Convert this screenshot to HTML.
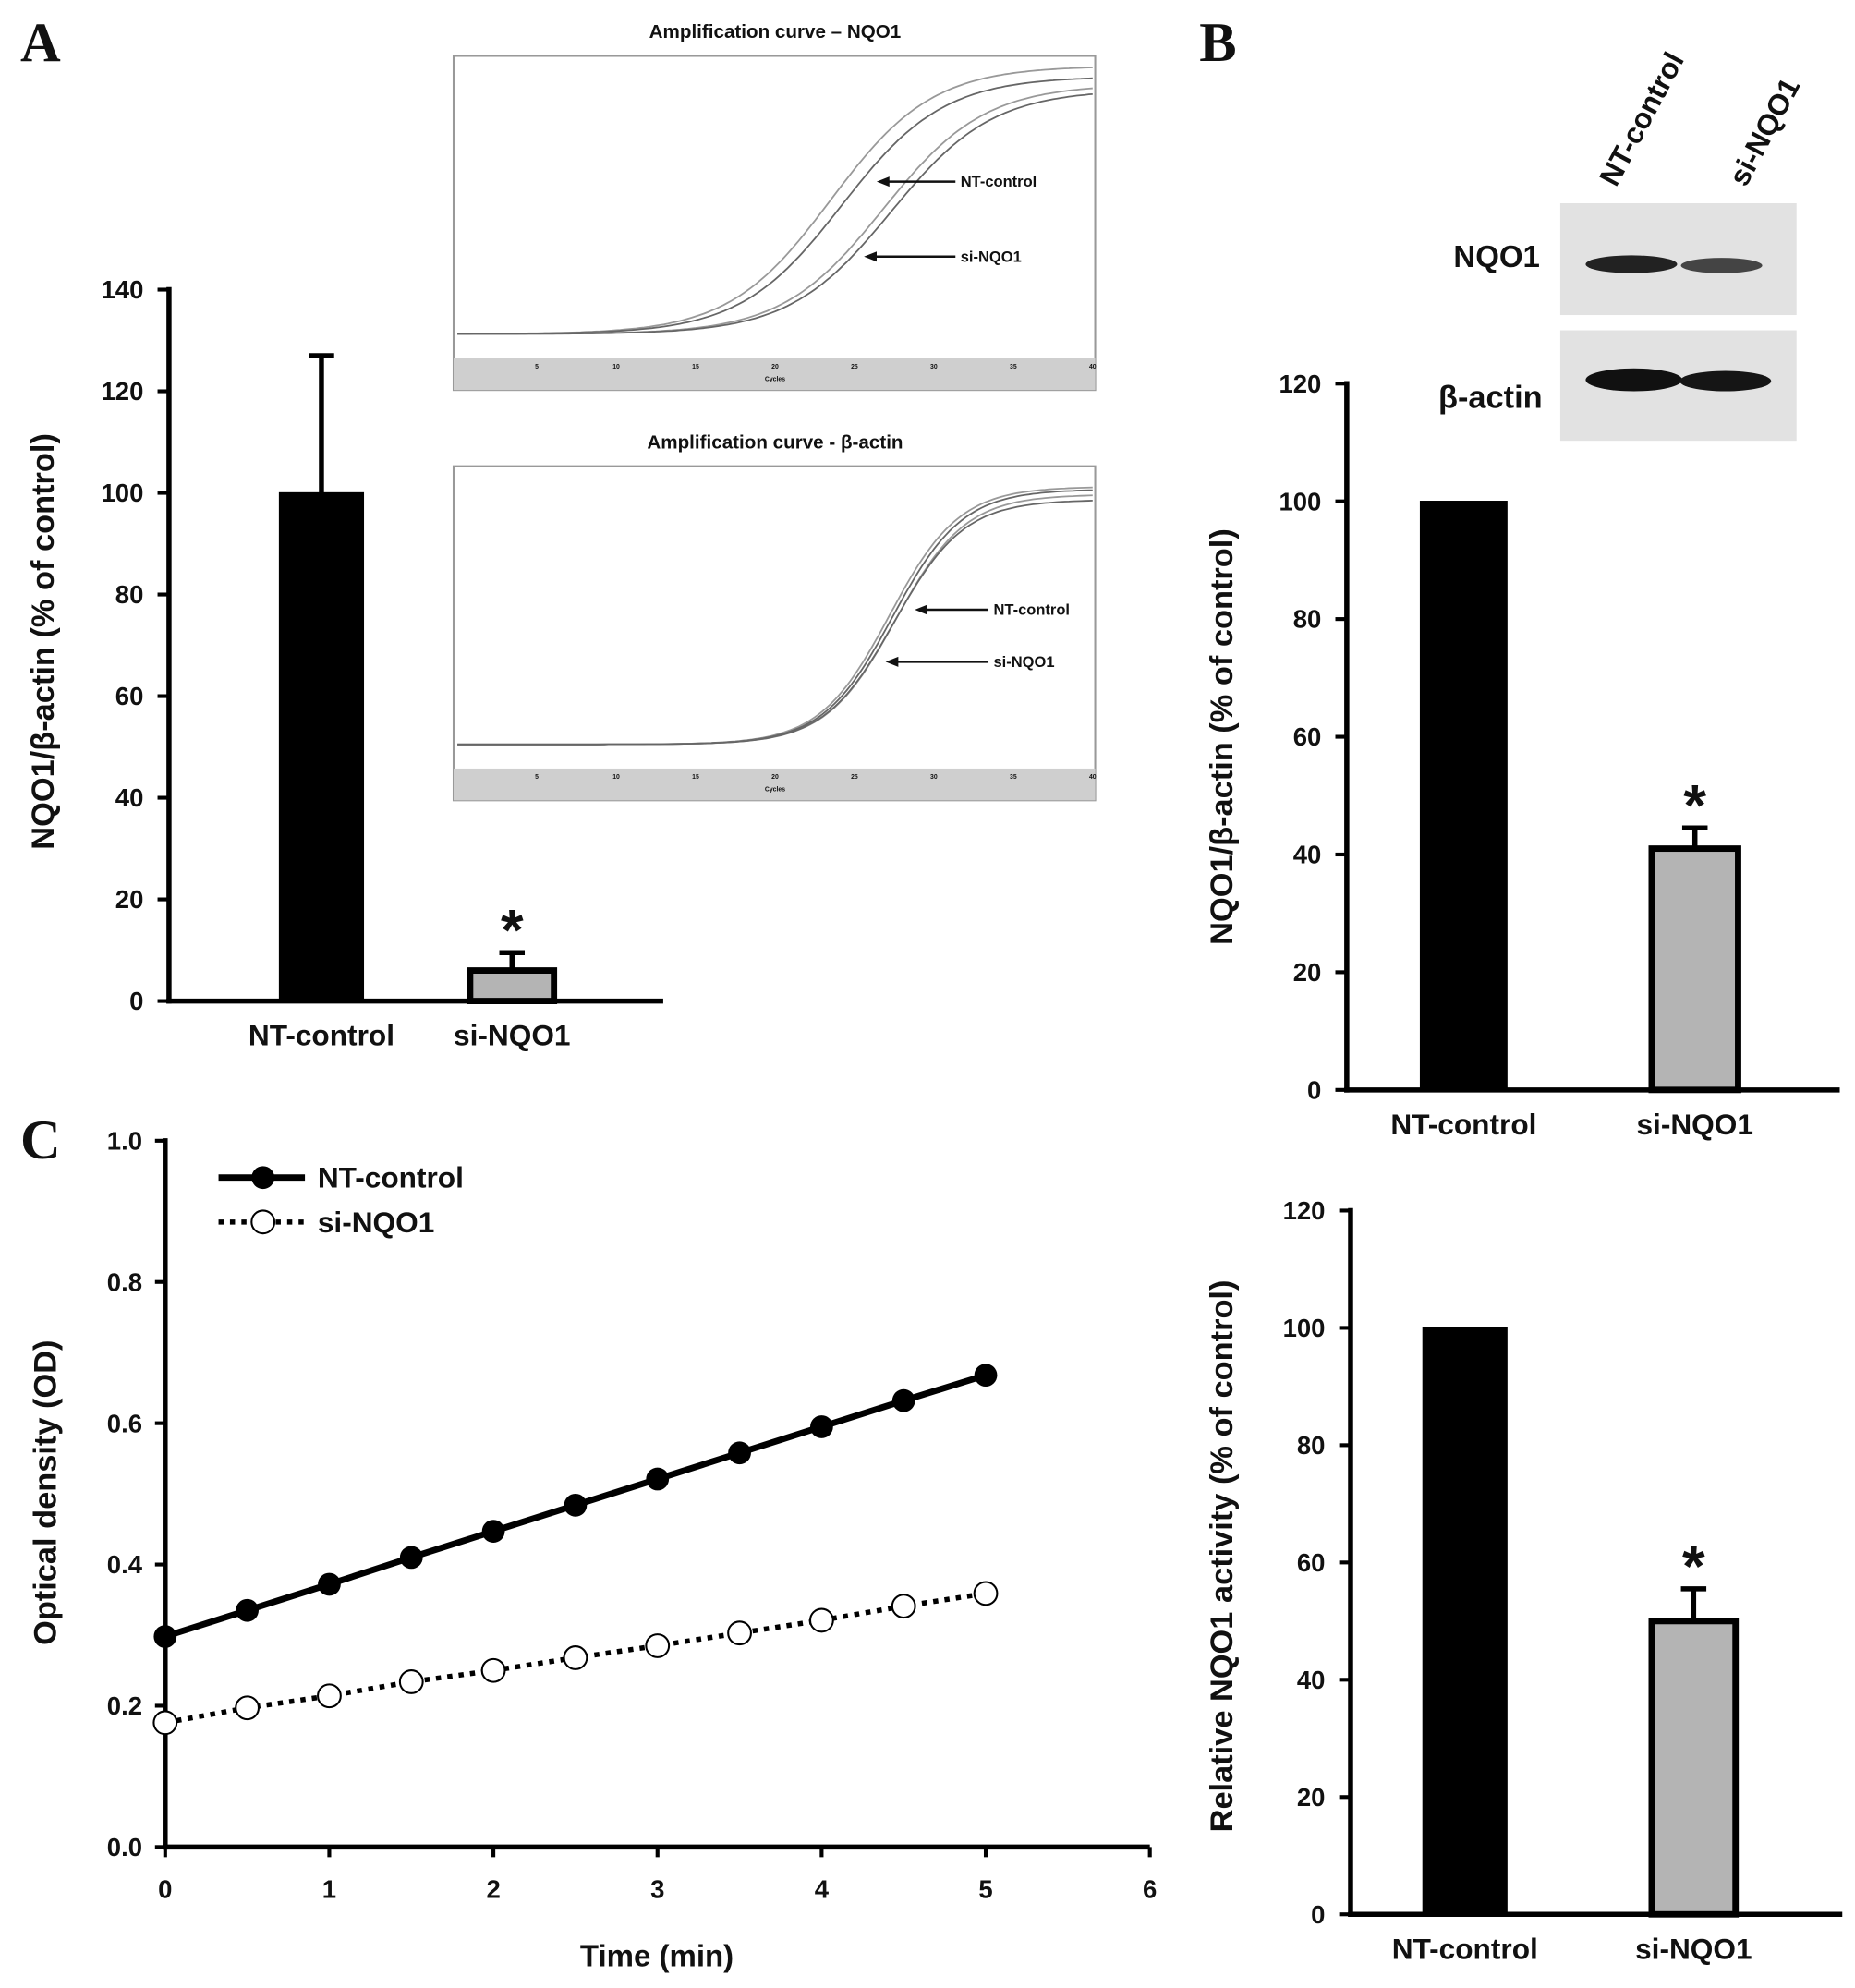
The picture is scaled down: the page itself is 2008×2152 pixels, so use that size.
<!DOCTYPE html>
<html><head><meta charset="utf-8">
<style>
html,body{margin:0;padding:0;background:#fff;}
svg{display:block;}
text{font-family:"Liberation Sans",Arial,sans-serif;font-weight:bold;fill:#111;}
.serif{font-family:"Liberation Serif",serif;}
</style></head>
<body>
<svg id="fig" width="2008" height="2152" viewBox="0 0 1460 1565" preserveAspectRatio="none" xmlns="http://www.w3.org/2000/svg">
<rect x="0" y="0" width="1460" height="1565" fill="#fff"/>
<g id="root"></g>
</svg>
<script>
// ---- Panel A data ----
const aCategories = ["NT-control", "si-NQO1"];
const aValues = [100, 6];
const aErrors = [27, 3.5];
const aTicks = [0, 20, 40, 60, 80, 100, 120, 140];
// ---- Panel B data ----
const bCategories = ["NT-control", "si-NQO1"];
const bValues = [100, 41];
const bErrors = [0, 3.5];
const bTicks = [0, 20, 40, 60, 80, 100, 120];
// ---- Panel D (activity) data ----
const dCategories = ["NT-control", "si-NQO1"];
const dValues = [100, 50];
const dErrors = [0, 5.5];
const dTicks = [0, 20, 40, 60, 80, 100, 120];
// ---- Panel C data ----
const cTime = [0, 0.5, 1, 1.5, 2, 2.5, 3, 3.5, 4, 4.5, 5];
const cNT = [0.298, 0.335, 0.372, 0.41, 0.447, 0.484, 0.521, 0.558, 0.595, 0.632, 0.668];
const cSi = [0.176, 0.197, 0.214, 0.234, 0.25, 0.268, 0.285, 0.303, 0.321, 0.341, 0.359];
const cYTicks = ["0.0", "0.2", "0.4", "0.6", "0.8", "1.0"];
const cXTicks = [0, 1, 2, 3, 4, 5, 6];
// ---- Inset amplification curve parameters (cycle midpoints / plateaus) ----
const ampNQO1Mid = [23.5, 24.2, 26.8, 27.3];
const ampNQO1Top = [1.02, 0.98, 0.95, 0.93];
const ampActinMid = [27.2, 27.4, 27.6, 27.5];
const ampActinTop = [0.98, 0.97, 0.95, 0.93];

const NS = "http://www.w3.org/2000/svg";
const root = document.getElementById("root");
function mk(tag, attrs, parent, txt) {
  const e = document.createElementNS(NS, tag);
  for (const k in attrs) e.setAttribute(k, attrs[k]);
  if (txt !== undefined) e.textContent = txt;
  (parent || root).appendChild(e);
  return e;
}

function barChart(cfg) {
  const g = mk("g", {});
  
  
  const yScale = v => cfg.y0 - (v - cfg.min) / (cfg.max - cfg.min) * (cfg.y0 - cfg.yTop);
  const ya = mk("line", {x1: cfg.ax, y1: cfg.yTop - 2, x2: cfg.ax, y2: cfg.y0 + 2, stroke: "#000", "stroke-width": 4}, g);
  
  
  const xa = mk("line", {x1: cfg.ax - 2, y1: cfg.y0, x2: cfg.axEnd, y2: cfg.y0, stroke: "#000", "stroke-width": 4}, g);
  
  
  cfg.ticks.forEach(t => {
    const y = yScale(t);
    mk("line", {x1: cfg.ax - 9, y1: y, x2: cfg.ax, y2: y, stroke: "#000", "stroke-width": 3}, g);
    const tl = mk("text", {x: cfg.ax - 20, y: y + 7, "text-anchor": "end", "font-size": 20}, g, String(t));
    
    
  });
  cfg.values.forEach((v, i) => {
    const x = cfg.barX[i], w = cfg.barW;
    const top = yScale(v), err = yScale(v + cfg.errors[i]);
    const cx = x + w / 2;
    if (cfg.errors[i] > 0) {
      const eb = mk("line", {x1: cx, y1: top, x2: cx, y2: err, stroke: "#000", "stroke-width": 4}, g);
      
      
      mk("line", {x1: cx - 10, y1: err, x2: cx + 10, y2: err, stroke: "#000", "stroke-width": 4}, g);
    }
    const b = mk("rect", {x: x, y: top, width: w, height: cfg.y0 - top,
      fill: i === 0 ? "#000" : "#b4b4b4", stroke: "#000", "stroke-width": i === 0 ? 1 : 5}, g);
    
    
    const lab = mk("text", {x: cx, y: cfg.y0 + 35, "text-anchor": "middle", "font-size": 23}, g, cfg.cats[i]);
    
    
    if (i === 1) {
      const st = mk("text", {x: cx, y: err - 2, "text-anchor": "middle", "font-size": 46}, g, "*");
      
      
    }
  });
  const yt = mk("text", {x: 0, y: 0, "text-anchor": "middle", "font-size": 25,
    transform: `translate(${cfg.titleX},${cfg.titleY}) rotate(-90)`}, g, cfg.title);
  
  
}

[["A", 16, 48], ["B", 944, 48], ["C", 16, 912]].forEach(p => {
  const t = mk("text", {x: p[1], y: p[2], "font-size": 44, class: "serif"}, root, p[0]);
  
  
});

barChart({name: "panel-a-chart", ax: 133, axEnd: 522, y0: 788, yTop: 228, min: 0, max: 140,
  ticks: aTicks, values: aValues, errors: aErrors, cats: aCategories, barX: [220, 370], barW: 66,
  title: "NQO1/β-actin (% of control)", titleX: 42, titleY: 505});

barChart({name: "panel-b-chart", ax: 1060, axEnd: 1448, y0: 858, yTop: 302, min: 0, max: 120,
  ticks: bTicks, values: bValues, errors: bErrors, cats: bCategories, barX: [1118, 1300], barW: 68,
  title: "NQO1/β-actin (% of control)", titleX: 970, titleY: 580});

barChart({name: "activity-chart", ax: 1063, axEnd: 1450, y0: 1507, yTop: 953, min: 0, max: 120,
  ticks: dTicks, values: dValues, errors: dErrors, cats: dCategories, barX: [1120, 1300], barW: 66,
  title: "Relative NQO1 activity (% of control)", titleX: 970, titleY: 1225});

function inset(cfg) {
  const g = mk("g", {});
  
  
  const t = mk("text", {x: 610, y: cfg.y - 14, "text-anchor": "middle", "font-size": 15}, g, cfg.title);
  
  
  mk("rect", {x: 357, y: cfg.y, width: 505, height: 263, fill: "#fff", stroke: "#999", "stroke-width": 1.5}, g);
  mk("rect", {x: 357, y: cfg.y + 238, width: 505, height: 25, fill: "#cfcfcf"}, g);
  const x0 = 360, x1 = 860, base = cfg.y + 219, top = cfg.y + 12;
  const cx = c => x0 + c / 40 * (x1 - x0);
  for (let c = 5; c <= 40; c += 5) {
    mk("text", {x: cx(c), y: cfg.y + 246, "text-anchor": "middle", "font-size": 5, fill: "#444"}, g, String(c));
  }
  mk("text", {x: cx(20), y: cfg.y + 256, "text-anchor": "middle", "font-size": 5}, g, "Cycles");
  cfg.mids.forEach((m, i) => {
    let d = "";
    for (let c = 0; c <= 40; c += 0.25) {
      const f = cfg.tops[i] / (1 + Math.exp(-(c - m) / cfg.slope));
      d += (c === 0 ? "M" : "L") + cx(c).toFixed(1) + "," + (base - f * (base - top)).toFixed(1);
    }
    const p = mk("path", {d: d, fill: "none", stroke: i % 2 ? "#666" : "#999", "stroke-width": 1.3}, g);
    
    
  });
  cfg.arrows.forEach(a => {
    mk("line", {x1: a[1], y1: a[2], x2: a[0] + 8, y2: a[2], stroke: "#111", "stroke-width": 1.8}, g);
    mk("path", {d: `M${a[0]},${a[2]} L${a[0] + 10},${a[2] - 4} L${a[0] + 10},${a[2] + 4}Z`, fill: "#111"}, g);
    const l = mk("text", {x: a[1] + 4, y: a[2] + 4, "font-size": 12}, g, a[3]);
    
    
  });
}
inset({name: "amplification-inset-nqo1", title: "Amplification curve – NQO1", y: 44,
  mids: ampNQO1Mid, tops: ampNQO1Top, slope: 3.2,
  arrows: [[690, 752, 143, "NT-control"], [680, 752, 202, "si-NQO1"]]});
inset({name: "amplification-inset-actin", title: "Amplification curve - β-actin", y: 367,
  mids: ampActinMid, tops: ampActinTop, slope: 2.2,
  arrows: [[720, 778, 480, "NT-control"], [697, 778, 521, "si-NQO1"]]});

(function () {
  const g = mk("g", {});
  
  
  [["NT-control", 1272], ["si-NQO1", 1374]].forEach(l => {
    const t = mk("text", {x: 0, y: 0, "font-size": 23, transform: `translate(${l[1]},${148}) rotate(-62)`}, g, l[0]);
    
    
  });
  mk("rect", {x: 1228, y: 160, width: 186, height: 88, fill: "#e2e2e2"}, g);
  mk("rect", {x: 1228, y: 260, width: 186, height: 87, fill: "#e2e2e2"}, g);
  mk("ellipse", {cx: 1284, cy: 208, rx: 36, ry: 7, fill: "#222"}, g);
  mk("ellipse", {cx: 1355, cy: 209, rx: 32, ry: 6, fill: "#444"}, g);
  mk("ellipse", {cx: 1286, cy: 299, rx: 38, ry: 9, fill: "#111"}, g);
  mk("ellipse", {cx: 1358, cy: 300, rx: 36, ry: 8, fill: "#151515"}, g);
  const a = mk("text", {x: 1212, y: 210, "text-anchor": "end", "font-size": 24}, g, "NQO1");
  
  
  const b = mk("text", {x: 1214, y: 321, "text-anchor": "end", "font-size": 25}, g, "β-actin");
  
  
})();

(function () {
  const g = mk("g", {});
  
  
  const ax = 130, y0 = 1454, yTop = 898, xEnd = 905;
  const X = v => ax + v / 6 * (xEnd - ax);
  const Y = v => y0 - v / 1.0 * (y0 - yTop);
  mk("line", {x1: ax, y1: yTop - 2, x2: ax, y2: y0 + 2, stroke: "#000", "stroke-width": 4}, g);
  mk("line", {x1: ax - 2, y1: y0, x2: xEnd, y2: y0, stroke: "#000", "stroke-width": 4}, g);
  cYTicks.forEach(t => {
    const y = Y(parseFloat(t));
    mk("line", {x1: ax - 8, y1: y, x2: ax, y2: y, stroke: "#000", "stroke-width": 3}, g);
    const l = mk("text", {x: ax - 18, y: y + 7, "text-anchor": "end", "font-size": 20}, g, t);
    
    
  });
  cXTicks.forEach(t => {
    const x = X(t);
    mk("line", {x1: x, y1: y0, x2: x, y2: y0 + 8, stroke: "#000", "stroke-width": 3}, g);
    const l = mk("text", {x: x, y: y0 + 40, "text-anchor": "middle", "font-size": 20}, g, String(t));
    
    
  });
  const xt = mk("text", {x: 517, y: 1548, "text-anchor": "middle", "font-size": 24}, g, "Time (min)");
  
  
  const yt = mk("text", {x: 0, y: 0, "text-anchor": "middle", "font-size": 25, transform: "translate(44,1175) rotate(-90)"}, g, "Optical density (OD)");
  
  
  const ntPts = cTime.map((t, i) => X(t) + "," + Y(cNT[i])).join(" ");
  const siPts = cTime.map((t, i) => X(t) + "," + Y(cSi[i])).join(" ");
  const l1 = mk("polyline", {points: ntPts, fill: "none", stroke: "#000", "stroke-width": 5}, g);
  
  
  const l2 = mk("polyline", {points: siPts, fill: "none", stroke: "#000", "stroke-width": 4, "stroke-dasharray": "4 5"}, g);
  
  
  cTime.forEach((t, i) => {
    const p = mk("circle", {cx: X(t), cy: Y(cNT[i]), r: 9, fill: "#000"}, g);
    
    
    const q = mk("circle", {cx: X(t), cy: Y(cSi[i]), r: 9, fill: "#fff", stroke: "#000", "stroke-width": 1.5}, g);
    
    
  });
  const lg = mk("g", {}, g);
  
  
  mk("line", {x1: 172, y1: 927, x2: 240, y2: 927, stroke: "#000", "stroke-width": 5}, lg);
  mk("circle", {cx: 207, cy: 927, r: 9, fill: "#000"}, lg);
  const e1 = mk("text", {x: 250, y: 935, "font-size": 23}, lg, "NT-control");
  
  
  mk("line", {x1: 172, y1: 962, x2: 240, y2: 962, stroke: "#000", "stroke-width": 4, "stroke-dasharray": "4 5"}, lg);
  mk("circle", {cx: 207, cy: 962, r: 9, fill: "#fff", stroke: "#000", "stroke-width": 1.5}, lg);
  const e2 = mk("text", {x: 250, y: 970, "font-size": 23}, lg, "si-NQO1");
  
  
})();
</script>
</body></html>
